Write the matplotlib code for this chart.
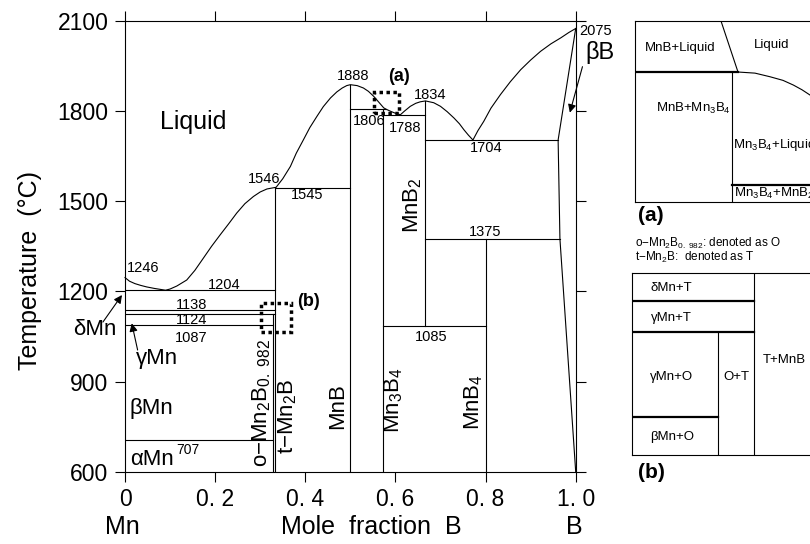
import matplotlib
matplotlib.use("Agg")
import matplotlib.pyplot as plt
from matplotlib.patches import Rectangle

plt.rcParams['font.family'] = ['Liberation Sans', 'DejaVu Sans']
plt.rcParams['mathtext.fontset'] = 'custom'
plt.rcParams['mathtext.rm'] = 'Liberation Sans'
plt.rcParams['mathtext.it'] = 'Liberation Sans'
plt.rcParams['mathtext.default'] = 'regular'

# liquidus (mole fraction B, degC)
liq_x = [0, 0.01, 0.022, 0.035, 0.048, 0.065, 0.09, 0.1, 0.115, 0.137, 0.155, 0.174,
         0.192, 0.211, 0.23, 0.248, 0.266, 0.285, 0.3, 0.315, 0.3333,
         0.335, 0.35, 0.367, 0.38, 0.396, 0.41, 0.426, 0.44, 0.456, 0.47, 0.482, 0.492, 0.5,
         0.515, 0.529, 0.54, 0.552, 0.563, 0.574, 0.58, 0.59, 0.6, 0.611,
         0.62, 0.633, 0.645, 0.655, 0.6667,
         0.685, 0.7, 0.715, 0.73, 0.742, 0.752, 0.762, 0.772,
         0.783, 0.796, 0.812, 0.833, 0.855, 0.878, 0.9, 0.922, 0.945, 0.967, 0.985, 1.0]
liq_T = [1246, 1234, 1226, 1220, 1215, 1210, 1204, 1208, 1218, 1238, 1270, 1311,
         1350, 1388, 1425, 1461, 1492, 1516, 1531, 1541, 1546,
         1546, 1575, 1616, 1660, 1705, 1745, 1783, 1815, 1844, 1864, 1877, 1885, 1888,
         1885, 1877, 1866, 1849, 1830, 1811, 1806, 1799, 1793, 1788,
         1800, 1816, 1826, 1831, 1834,
         1828, 1816, 1798, 1777, 1758, 1738, 1720, 1704,
         1735, 1766, 1810, 1855, 1898, 1938, 1970, 1999, 2024, 2044, 2062, 2075]

# beta-B boundary
bB_x = [1.0, 0.961, 0.965, 1.0]
bB_T = [2075, 1704, 1375, 600]

# invariant lines: temperature, from x, to x
inv_T = [1204, 1138, 1124, 1087, 707, 1545, 1806, 1788, 1704, 1375, 1085]
inv_x0 = [0, 0, 0, 0, 0, 0.3333, 0.5, 0.5714, 0.6667, 0.6667, 0.5714]
inv_x1 = [0.3333, 0.3333, 0.3333, 0.3293, 0.3293, 0.5, 0.578, 0.6667, 0.961, 0.965, 0.8]

# compounds: composition, lowest and highest temperature
cmp_x = [0.3293, 0.3333, 0.5, 0.5714, 0.6667, 0.8]
cmp_T0 = [600, 600, 600, 600, 1085, 600]
cmp_T1 = [1124, 1546, 1888, 1806, 1834, 1375]

# zoomed regions (x0, x1, T0, T1)
box_a = [0.552, 0.607, 1794, 1864]
box_b = [0.302, 0.368, 1064, 1161]

xticks = [0, 0.2, 0.4, 0.6, 0.8, 1.0]
xticklabels = ['0', '0. 2', '0. 4', '0. 6', '0. 8', '1. 0']
yticks = [600, 900, 1200, 1500, 1800, 2100]

fig = plt.figure(figsize=(8.1, 5.44), dpi=100)
ax = fig.add_axes([125/810, 72.3/544, 450.7/810, 450.7/544])
ax.set_xlim(0, 1)
ax.set_ylim(600, 2100)
ax.set_xticks(xticks)
ax.set_xticklabels(xticklabels)
ax.set_yticks(yticks)
ax.tick_params(direction='out', length=7, width=0.8, labelsize=16.5, top=True, right=True, pad=5)
for s in ax.spines.values():
    s.set_linewidth(0.8)

lw = 0.8
ax.plot(liq_x, liq_T, color='k', lw=lw, clip_on=False)
ax.plot(bB_x, bB_T, color='k', lw=lw, clip_on=False)
for T, a, b in zip(inv_T, inv_x0, inv_x1):
    ax.plot([a, b], [T, T], color='k', lw=lw)
for x, a, b in zip(cmp_x, cmp_T0, cmp_T1):
    ax.plot([x, x], [a, b], color='k', lw=lw)

for bx in (box_a, box_b):
    ax.add_patch(Rectangle((bx[0], bx[2]), bx[1]-bx[0], bx[3]-bx[2], fill=False,
                           ls=(0, (1, 1)), lw=2.5, ec='k'))

def t(x, y, s, size=10.5, **kw):
    ax.text(x, y, s, ha=kw.pop('ha', 'center'), va='center', fontsize=size, clip_on=False, **kw)

t(0.151, 1765, 'Liquid', 18)
t(0.04, 1277, '1246')
t(0.22, 1222, '1204')
t(0.309, 1575, '1546')
t(0.404, 1521, '1545')
t(0.507, 1918, '1888')
t(0.607, 1916, '(a)', 13, weight='bold')
t(0.542, 1768, '1806')
t(0.621, 1744, '1788')
t(0.677, 1855, '1834')
t(0.802, 1677, '1704')
t(0.798, 1399, '1375')
t(1.007, 2066, '2075', ha='left')
t(1.053, 1995, 'βB', 17)
t(0.639, 1488, 'MnB$_2$', 16, rotation=90)
t(0.147, 1155, '1138')
t(0.147, 1105, '1124')
t(0.147, 1045, '1087')
t(-0.067, 1072, 'δMn', 16)
t(0.072, 976, 'γMn', 16)
t(0.058, 812, 'βMn', 16)
t(0.059, 642, 'αMn', 16)
t(0.14, 672, '707', 10)
t(0.304, 830, 'o−Mn$_2$B$_{0.\\ 982}$', 16, rotation=90)
t(0.361, 785, 't−Mn$_2$B', 16, rotation=90)
t(0.472, 817, 'MnB', 16, rotation=90)
t(0.596, 838, 'Mn$_3$B$_4$', 16, rotation=90)
t(0.774, 833, 'MnB$_4$', 16, rotation=90)
t(0.68, 1049, '1085')
t(0.407, 1166, '(b)', 13, weight='bold')

arrow = dict(arrowstyle='-|>', color='k', lw=0.8, mutation_scale=12, shrinkA=0, shrinkB=0)
ax.annotate('', xy=(-0.0067, 1188), xytext=(-0.049, 1098), arrowprops=arrow, annotation_clip=False)
ax.annotate('', xy=(0.015, 1094), xytext=(0.028, 1005), arrowprops=arrow, annotation_clip=False)
ax.annotate('', xy=(0.987, 1795), xytext=(1.015, 1948), arrowprops=arrow, annotation_clip=False)

fig.text(30/810, 1-270/544, 'Temperature  (°C)', rotation=90, ha='center', va='center', fontsize=18)
fig.text(371/810, 1-527/544, 'Mole  fraction  B', ha='center', va='center', fontsize=18)
fig.text(122/810, 1-527/544, 'Mn', ha='center', va='center', fontsize=18)
fig.text(574.5/810, 1-527/544, 'B', ha='center', va='center', fontsize=18)

# inset (a), schematic units 0..1
axa = fig.add_axes([635/810, 342/544, 200/810, 181/544])
axa.set_xlim(0, 1)
axa.set_ylim(0, 1)
axa.set_xticks([])
axa.set_yticks([])
for s in axa.spines.values():
    s.set_linewidth(0.8)
a_curve_x = [0.517, 0.6, 0.675, 0.74, 0.792, 0.835, 0.875, 0.92]
a_curve_y = [0.718, 0.712, 0.692, 0.672, 0.646, 0.62, 0.591, 0.555]
axa.plot([0.43, 0.515], [1, 0.718], color='k', lw=0.8)
axa.plot([0, 0.515], [0.718, 0.718], color='k', lw=1.6)
axa.plot([0.485, 0.485], [0, 0.718], color='k', lw=0.8)
axa.plot(a_curve_x, a_curve_y, color='k', lw=0.8)
axa.plot([0.485, 1], [0.094, 0.094], color='k', lw=1.6)
fs = 9.5
axa.text(0.225, 0.85, 'MnB+Liquid', ha='center', va='center', fontsize=fs)
axa.text(0.685, 0.867, 'Liquid', ha='center', va='center', fontsize=fs)
axa.text(0.293, 0.518, 'MnB+Mn$_3$B$_4$', ha='center', va='center', fontsize=fs)
axa.text(0.49, 0.315, 'Mn$_3$B$_4$+Liquid', ha='left', va='center', fontsize=fs)
axa.text(0.495, 0.045, 'Mn$_3$B$_4$+MnB$_2$', ha='left', va='center', fontsize=fs)

fig.text(651/810, 1-216/544, '(a)', ha='center', va='center', fontsize=15, weight='bold')
fig.text(635/810, 1-243/544, 'o−Mn$_2$B$_{0.\\ 982}$: denoted as O', ha='left', va='center', fontsize=8.5)
fig.text(635/810, 1-257/544, 't−Mn$_2$B:  denoted as T', ha='left', va='center', fontsize=8.5)

# inset (b)
axb = fig.add_axes([632/810, 89/544, 200/810, 182/544])
axb.set_xlim(0, 1)
axb.set_ylim(0, 1)
axb.set_xticks([])
axb.set_yticks([])
for s in axb.spines.values():
    s.set_linewidth(0.8)
axb.plot([0.61, 0.61], [0, 1], color='k', lw=0.8)
axb.plot([0, 0.61], [0.846, 0.846], color='k', lw=1.6)
axb.plot([0, 0.61], [0.676, 0.676], color='k', lw=1.6)
axb.plot([0.43, 0.43], [0, 0.676], color='k', lw=0.8)
axb.plot([0, 0.43], [0.209, 0.209], color='k', lw=1.6)
axb.text(0.195, 0.918, 'δMn+T', ha='center', va='center', fontsize=fs)
axb.text(0.195, 0.753, 'γMn+T', ha='center', va='center', fontsize=fs)
axb.text(0.2, 0.43, 'γMn+O', ha='center', va='center', fontsize=fs)
axb.text(0.52, 0.43, 'O+T', ha='center', va='center', fontsize=fs)
axb.text(0.76, 0.52, 'T+MnB', ha='center', va='center', fontsize=fs)
axb.text(0.2, 0.1, 'βMn+O', ha='center', va='center', fontsize=fs)
fig.text(651/810, 1-473/544, '(b)', ha='center', va='center', fontsize=15, weight='bold')

fig.savefig('out.png', dpi=100)
